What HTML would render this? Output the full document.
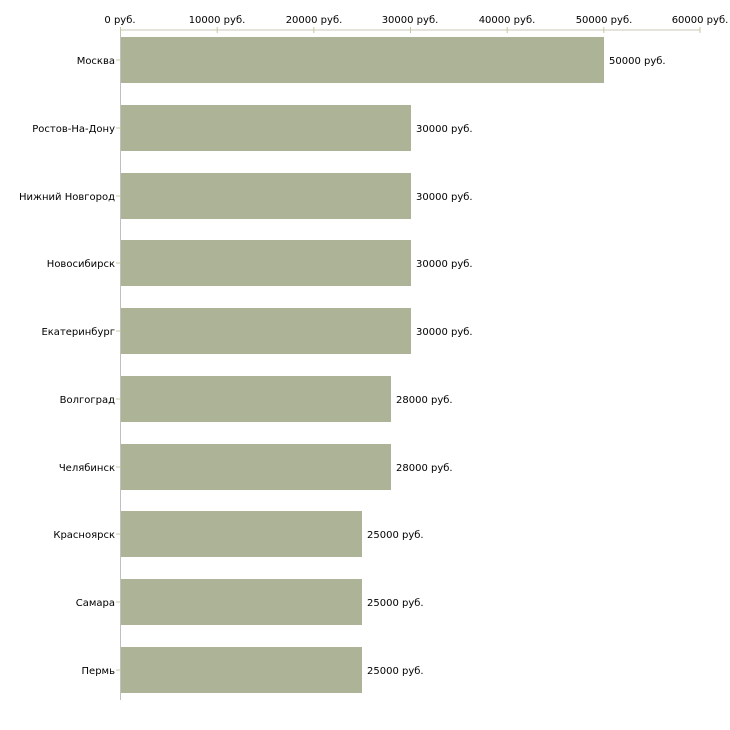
<!DOCTYPE html>
<html><head><meta charset="utf-8"><style>html,body{margin:0;padding:0;background:#fff}svg{display:block}</style></head>
<body>
<svg width="730" height="730" xmlns="http://www.w3.org/2000/svg" font-family="'DejaVu Sans','Liberation Sans',sans-serif" font-size="10" fill="#000">
<line x1="120" y1="30" x2="700" y2="30" stroke="#c8c8b4" stroke-width="1"/>
<line x1="120.5" y1="28" x2="120.5" y2="700" stroke="#c0c0c0" stroke-width="1"/>
<g stroke="#c8c8a0">
<line x1="120.5" y1="27" x2="120.5" y2="33"/><line x1="217.2" y1="27" x2="217.2" y2="33"/><line x1="313.8" y1="27" x2="313.8" y2="33"/><line x1="410.5" y1="27" x2="410.5" y2="33"/><line x1="507.2" y1="27" x2="507.2" y2="33"/><line x1="603.8" y1="27" x2="603.8" y2="33"/><line x1="700" y1="27" x2="700" y2="33"/>
</g>
<g text-anchor="middle">
<text x="120" y="23">0 руб.</text><text x="217" y="23">10000 руб.</text><text x="314" y="23">20000 руб.</text><text x="410" y="23">30000 руб.</text><text x="507" y="23">40000 руб.</text><text x="604" y="23">50000 руб.</text><text x="700" y="23">60000 руб.</text>
</g>
<g fill="#adb396">
<rect x="121" y="37" width="483" height="46"/>
<rect x="121" y="105" width="290" height="46"/>
<rect x="121" y="173" width="290" height="46"/>
<rect x="121" y="240" width="290" height="46"/>
<rect x="121" y="308" width="290" height="46"/>
<rect x="121" y="376" width="270" height="46"/>
<rect x="121" y="444" width="270" height="46"/>
<rect x="121" y="511" width="241" height="46"/>
<rect x="121" y="579" width="241" height="46"/>
<rect x="121" y="647" width="241" height="46"/>
</g>
<g stroke="#c8c8a0">
<line x1="116" y1="60" x2="120" y2="60"/><line x1="116" y1="128" x2="120" y2="128"/><line x1="116" y1="196" x2="120" y2="196"/><line x1="116" y1="263" x2="120" y2="263"/><line x1="116" y1="331" x2="120" y2="331"/><line x1="116" y1="399" x2="120" y2="399"/><line x1="116" y1="467" x2="120" y2="467"/><line x1="116" y1="534" x2="120" y2="534"/><line x1="116" y1="602" x2="120" y2="602"/><line x1="116" y1="670" x2="120" y2="670"/>
</g>
<g text-anchor="end">
<text x="115" y="64">Москва</text><text x="115" y="132">Ростов-На-Дону</text><text x="115" y="200">Нижний Новгород</text><text x="115" y="267">Новосибирск</text><text x="115" y="335">Екатеринбург</text><text x="115" y="403">Волгоград</text><text x="115" y="471">Челябинск</text><text x="115" y="538">Красноярск</text><text x="115" y="606">Самара</text><text x="115" y="674">Пермь</text>
</g>
<g>
<text x="609" y="64">50000 руб.</text><text x="416" y="132">30000 руб.</text><text x="416" y="200">30000 руб.</text><text x="416" y="267">30000 руб.</text><text x="416" y="335">30000 руб.</text><text x="396" y="403">28000 руб.</text><text x="396" y="471">28000 руб.</text><text x="367" y="538">25000 руб.</text><text x="367" y="606">25000 руб.</text><text x="367" y="674">25000 руб.</text>
</g>
</svg>
</body></html>
